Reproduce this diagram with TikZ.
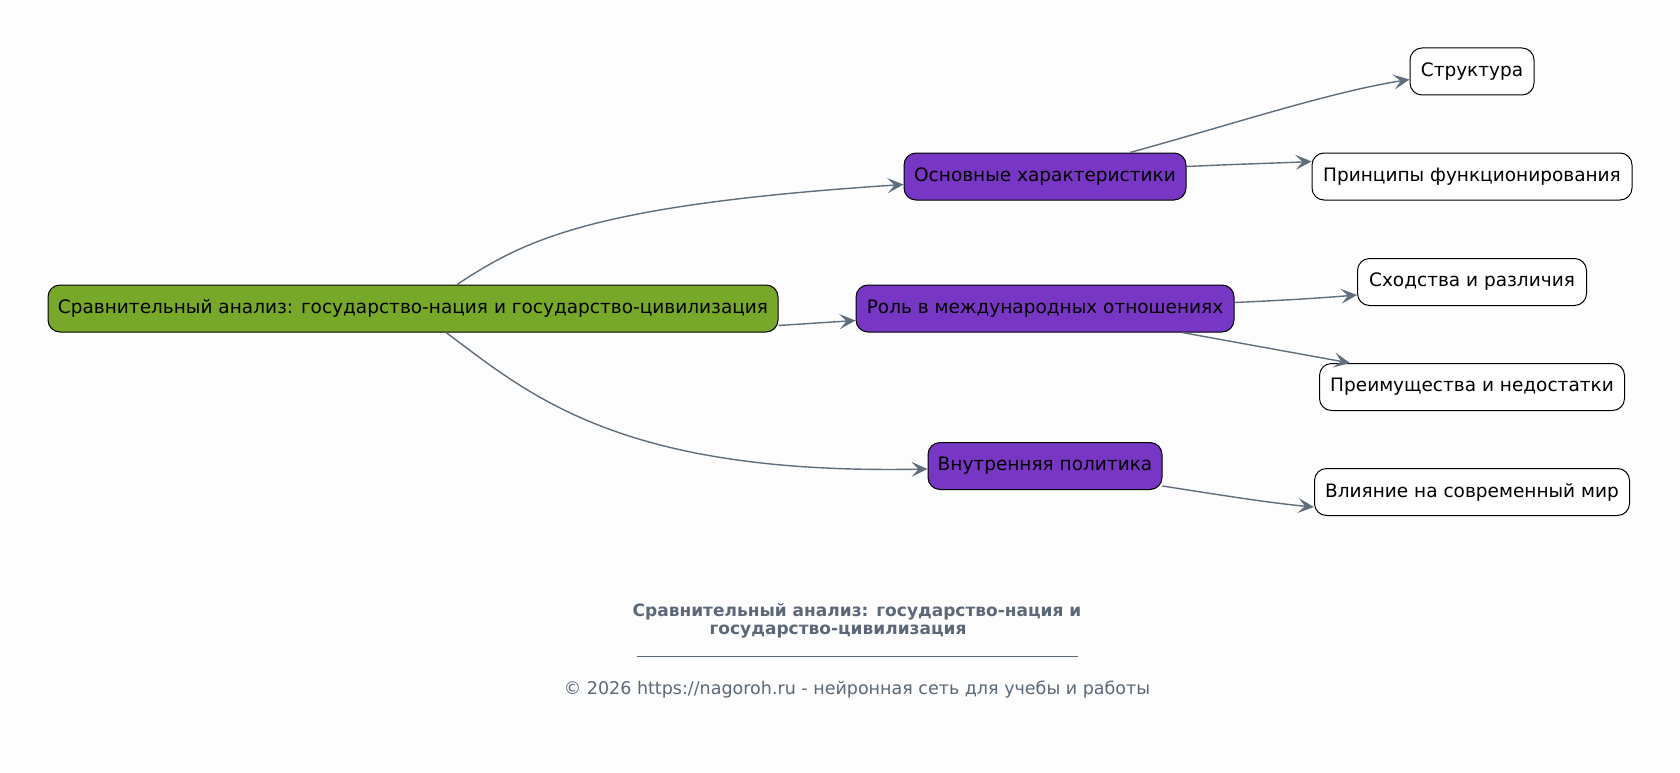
\documentclass[tikz,border=0pt]{standalone}
\usepackage{fontspec}
\setmainfont{DejaVu Sans}
\usetikzlibrary{arrows.meta}
\definecolor{bg}{HTML}{FDFDFD}
\definecolor{rootgreen}{HTML}{77A82A}
\definecolor{midpurple}{HTML}{7836C4}
\definecolor{edgecol}{HTML}{5F6E7D}
\definecolor{titlecol}{HTML}{5A6878}
\tikzset{
  box/.style={draw=black, line width=1pt, rounded corners=12pt, minimum height=47pt, inner sep=0pt, font=\fontsize{18.5}{22}\selectfont, text=black},
  rootbox/.style={box, fill=rootgreen},
  midbox/.style={box, fill=midpurple},
  leafbox/.style={box, fill=white},
  edge/.style={draw=edgecol, line width=1.4pt, -{Stealth[length=16pt,width=15pt,inset=7pt]}},
}
\begin{document}
\begin{tikzpicture}[x=1pt,y=-1pt]
\useasboundingbox[fill=bg] (0,0) rectangle (1680,773);
\node[rootbox, minimum width=730pt] (root) at (413,308.5) {Сравнительный анализ: государство-нация и государство-цивилизация};
\node[midbox, minimum width=282pt] (m1) at (1045,176.5) {Основные характеристики};
\node[midbox, minimum width=378pt] (m2) at (1045,308.5) {Роль в международных отношениях};
\node[midbox, minimum width=234pt] (m3) at (1045,466) {Внутренняя политика};
\node[leafbox, minimum width=124pt] (s1) at (1472,71.5) {Структура};
\node[leafbox, minimum width=320pt] (s2) at (1472,176.5) {Принципы функционирования};
\node[leafbox, minimum width=229pt] (s3) at (1472,282) {Сходства и различия};
\node[leafbox, minimum width=305pt] (s4) at (1472,387) {Преимущества и недостатки};
\node[leafbox, minimum width=315pt] (s5) at (1472,492) {Влияние на современный мир};

\draw[edge] ([xshift=44pt]root.north) .. controls (525,240) and (590,205) .. ([yshift=-8pt]m1.west);
\draw[edge] ([yshift=-17pt]root.east) -- ([yshift=-12pt]m2.west);
\draw[edge] ([xshift=33pt]root.south) .. controls (530,395) and (620,475) .. ([yshift=-3pt]m3.west);
\draw[edge] ([xshift=85pt]m1.north) .. controls (1230,125) and (1330,92) .. ([yshift=-8pt]s1.west);
\draw[edge] ([yshift=10pt]m1.east) .. controls (1240,164) and (1280,163) .. ([yshift=15pt]s2.west);
\draw[edge] ([yshift=6pt]m2.east) .. controls (1290,300) and (1320,298) .. ([yshift=-13pt]s3.west);
\draw[edge] ([xshift=137pt]m2.south) -- ([xshift=-122pt]s4.north);
\draw[edge] ([yshift=-20pt]m3.east) .. controls (1220,495) and (1270,503) .. ([yshift=-15pt]s5.west);

\node[text=titlecol, font=\fontsize{17}{18.5}\bfseries\selectfont, align=center] (title) at (857,621) {Сравнительный анализ: государство-нация и\\государство-цивилизация\hspace*{38pt}};
\coordinate (ulA) at (637,656);
\coordinate (ulB) at (1078,656);
\draw[titlecol, line width=1pt] (ulA) -- (ulB);
\node[text=titlecol, font=\fontsize{17.5}{20}\selectfont] (copy) at (857,690) {© 2026 https://nagoroh.ru - нейронная сеть для учебы и работы};
\end{tikzpicture}
\end{document}
